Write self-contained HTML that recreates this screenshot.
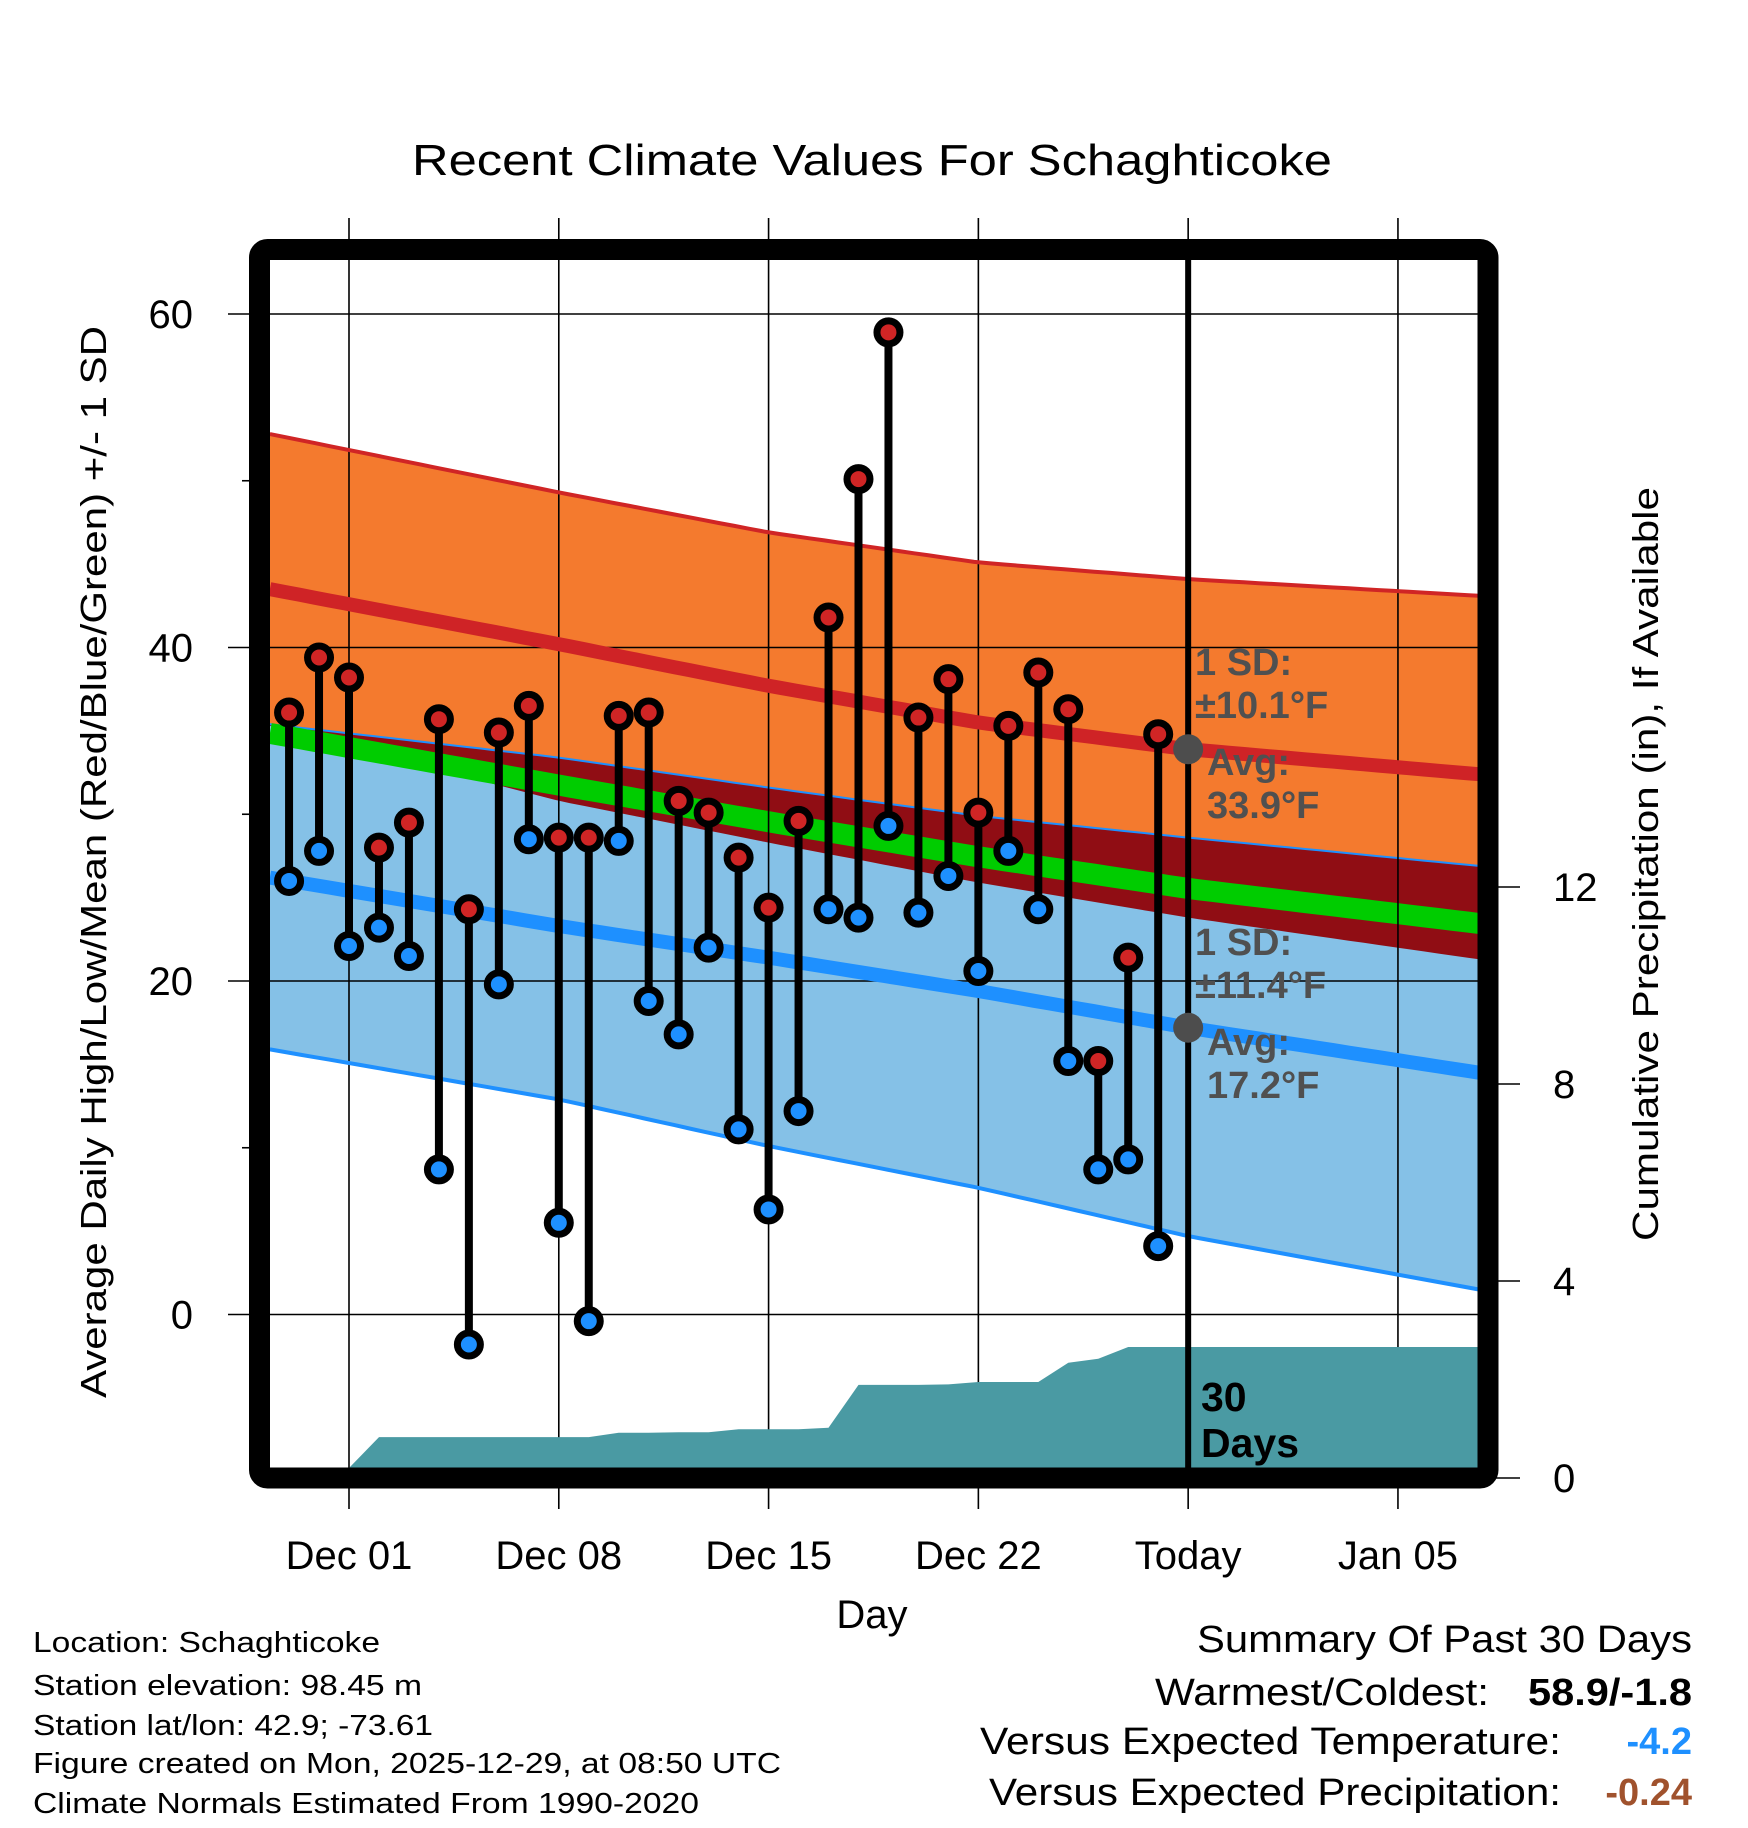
<!DOCTYPE html>
<html><head><meta charset="utf-8"><style>
html,body{margin:0;padding:0;background:#fff;}
svg{display:block;font-family:"Liberation Sans",Arial,sans-serif;}
</style></head><body>
<svg id="chart" width="1748" height="1828" viewBox="0 0 1748 1828" xmlns="http://www.w3.org/2000/svg">
<rect width="1748" height="1828" fill="#fff"/>
<g id="bands"></g><g id="grid"></g><g id="precip"></g><g id="lines"></g><g id="marks"></g><g id="annot"></g><g id="frame"></g>
<text x="872" y="175" font-size="44" text-anchor="middle" textLength="920" lengthAdjust="spacingAndGlyphs">Recent Climate Values For Schaghticoke</text>
<text transform="translate(106,862) rotate(-90)" font-size="36" text-anchor="middle" textLength="1072" lengthAdjust="spacingAndGlyphs">Average Daily High/Low/Mean (Red/Blue/Green) +/- 1 SD</text>
<text transform="translate(1658,864) rotate(-90)" font-size="36" text-anchor="middle" textLength="754" lengthAdjust="spacingAndGlyphs">Cumulative Precipitation (in), If Available</text>
<text x="872" y="1628" font-size="40" text-anchor="middle">Day</text>
<g font-size="29">
<text x="33" y="1652" textLength="347" lengthAdjust="spacingAndGlyphs">Location: Schaghticoke</text>
<text x="33" y="1695" textLength="389" lengthAdjust="spacingAndGlyphs">Station elevation: 98.45 m</text>
<text x="33" y="1735" textLength="400" lengthAdjust="spacingAndGlyphs">Station lat/lon: 42.9; -73.61</text>
<text x="33" y="1773" textLength="748" lengthAdjust="spacingAndGlyphs">Figure created on Mon, 2025-12-29, at 08:50 UTC</text>
<text x="33" y="1813" textLength="666" lengthAdjust="spacingAndGlyphs">Climate Normals Estimated From 1990-2020</text>
</g>
<g font-size="38">
<text x="1692" y="1652" text-anchor="end" textLength="495" lengthAdjust="spacingAndGlyphs">Summary Of Past 30 Days</text>
<text x="1489" y="1705" text-anchor="end" textLength="334" lengthAdjust="spacingAndGlyphs">Warmest/Coldest:</text>
<text x="1692" y="1705" text-anchor="end" font-weight="bold" textLength="164" lengthAdjust="spacingAndGlyphs">58.9/-1.8</text>
<text x="1561" y="1754" text-anchor="end" textLength="581" lengthAdjust="spacingAndGlyphs">Versus Expected Temperature:</text>
<text x="1692" y="1754" text-anchor="end" font-weight="bold" fill="#1e90ff">-4.2</text>
<text x="1561" y="1805" text-anchor="end" textLength="572" lengthAdjust="spacingAndGlyphs">Versus Expected Precipitation:</text>
<text x="1692" y="1805" text-anchor="end" font-weight="bold" fill="#a0522d">-0.24</text>
</g>
</svg>
<script>
// ---- data ----
const dayOffsets = [-2,-1,0,1,2,3,4,5,6,7,8,9,10,11,12,13,14,15,16,17,18,19,20,21,22,23,24,25,26,27]; // days from Dec 01
const highs = [36.1,39.4,38.2,28.0,29.5,35.7,24.3,34.9,36.5,28.6,28.6,35.9,36.1,30.8,30.1,27.4,24.4,29.6,41.8,50.1,58.9,35.8,38.1,30.1,35.3,38.5,36.3,15.2,21.4,34.8];
const lows = [26.0,27.8,22.1,23.2,21.5,8.7,-1.8,19.8,28.5,5.5,-0.4,28.4,18.8,16.8,22.0,11.1,6.3,12.2,24.3,23.8,29.3,24.1,26.3,20.6,27.8,24.3,15.2,8.7,9.3,4.1];
const precipCum = [0,0,0,0.83,0.83,0.83,0.83,0.83,0.83,0.83,0.83,0.92,0.92,0.93,0.93,0.99,0.99,0.99,1.02,1.89,1.89,1.89,1.90,1.95,1.95,1.95,2.34,2.42,2.66,2.66];
const normDays = [-2.64,7,14,21,28,37.7];
const hiTop = [52.8,49.3,46.9,45.1,44.1,43.1];
const hiAvg = [43.5,40.2,37.7,35.5,33.9,32.4];
const hiBot = [35.3,30.8,28.3,25.9,23.8,21.3];
const loTop = [35.4,33.4,31.6,29.9,28.6,26.9];
const loAvg = [26.2,23.3,21.4,19.4,17.2,14.5];
const loBot = [15.9,12.9,10.1,7.6,4.7,1.5];
const xTickDays = [0,7,14,21,28,35];
const xTickLabels = ["Dec 01","Dec 08","Dec 15","Dec 22","Today","Jan 05"];
const yTicks = [0,20,40,60];
const yMinor = [10,30,50];
const pTicks = [0,4,8,12];

// ---- axes ----
const L=270,R=1478,T=260,B=1468;
const X = d => 349 + d*29.97;
const Y = v => 1314.5 - v*16.675;
const P = v => 1478 - v*49.25;
const NS="http://www.w3.org/2000/svg";
function mk(tag, parent, attrs){const e=document.createElementNS(NS,tag);for(const k in attrs)e.setAttribute(k,attrs[k]);parent.appendChild(e);return e;}
const gB=document.getElementById('bands'),gG=document.getElementById('grid'),gP=document.getElementById('precip'),gL=document.getElementById('lines'),gM=document.getElementById('marks'),gA=document.getElementById('annot'),gF=document.getElementById('frame');

function interp(arr,d){for(let i=0;i<normDays.length-1;i++){if(d<=normDays[i+1]||i==normDays.length-2){const t=(d-normDays[i])/(normDays[i+1]-normDays[i]);return arr[i]+t*(arr[i+1]-arr[i]);}}}
const dEnd=normDays[normDays.length-1];
const samp=[];for(let d=normDays[0];d<dEnd;d+=0.5)samp.push(d);samp.push(dEnd);
function linePts(arr){return samp.map(d=>X(d).toFixed(1)+','+Y(interp(arr,d)).toFixed(1));}
function band(a,b){return linePts(a).concat(linePts(b).reverse()).join(' ');}
const meanArr = hiAvg.map((v,i)=>(v+loAvg[i])/2);

let e;
e=mk('polygon',gB,{points:band(hiTop,hiBot),fill:'#f47a2e'});

e=mk('polygon',gB,{points:band(loTop,loBot),fill:'#85c1e7'});

e=mk('polygon',gB,{points:band(loTop,hiBot),fill:'#900d14'});

e=mk('polyline',gB,{points:linePts(loTop).join(' '),fill:'none',stroke:'#1e90ff','stroke-width':2});

e=mk('polyline',gB,{points:linePts(meanArr).join(' '),fill:'none',stroke:'#00cc00','stroke-width':21});


// grid
xTickDays.forEach((d,i)=>{
  e=mk('line',gG,{x1:X(d),x2:X(d),y1:218,y2:1509,stroke:'#000','stroke-width':1.6});
  
  e=mk('text',gG,{x:X(d),y:1569,'font-size':40,'text-anchor':'middle'});e.textContent=xTickLabels[i];
  
});
yTicks.forEach(v=>{
  e=mk('line',gG,{x1:228,x2:R,y1:Y(v),y2:Y(v),stroke:'#000','stroke-width':1.6});
  
  e=mk('text',gG,{x:193,y:Y(v)+14,'font-size':40,'text-anchor':'end'});e.textContent=v;
  
});
yMinor.forEach(v=>{
  e=mk('line',gG,{x1:242,x2:255,y1:Y(v),y2:Y(v),stroke:'#000','stroke-width':1.6});
  
});
pTicks.forEach(v=>{
  e=mk('line',gG,{x1:1490,x2:1520,y1:P(v),y2:P(v),stroke:'#000','stroke-width':1.6});
  
  e=mk('text',gG,{x:1553,y:P(v)+14,'font-size':40});e.textContent=v;
  
});

// normal lines
e=mk('polyline',gL,{points:linePts(hiTop).join(' '),fill:'none',stroke:'#d02525','stroke-width':4});

e=mk('polyline',gL,{points:linePts(hiAvg).join(' '),fill:'none',stroke:'#cf2326','stroke-width':14});

e=mk('polyline',gL,{points:linePts(loAvg).join(' '),fill:'none',stroke:'#1e90ff','stroke-width':14});

e=mk('polyline',gL,{points:linePts(loBot).join(' '),fill:'none',stroke:'#1e90ff','stroke-width':4});


// precip
let pp=[X(dayOffsets[0])+','+B];
dayOffsets.forEach((d,i)=>pp.push(X(d).toFixed(1)+','+Math.min(B,P(precipCum[i])).toFixed(1)));
pp.push(R+','+Math.min(B,P(precipCum[precipCum.length-1])).toFixed(1));pp.push(R+','+B);
e=mk('polygon',gP,{points:pp.join(' '),fill:'#4a9aa3'});


// marks
dayOffsets.forEach((d,i)=>{
  e=mk('line',gM,{x1:X(d),x2:X(d),y1:Y(highs[i]),y2:Y(lows[i]),stroke:'#000','stroke-width':8});
  
});
dayOffsets.forEach((d,i)=>{
  e=mk('circle',gM,{cx:X(d),cy:Y(highs[i]),r:11.5,fill:'#d02525',stroke:'#000','stroke-width':7});
  
  e=mk('circle',gM,{cx:X(d),cy:Y(lows[i]),r:11.5,fill:'#1e90ff',stroke:'#000','stroke-width':7});
  
});

// today line + annotations
e=mk('line',gA,{x1:X(28),x2:X(28),y1:T-10,y2:B,stroke:'#000','stroke-width':6});

e=mk('circle',gA,{cx:X(28),cy:Y(interp(hiAvg,28)),r:15,fill:'#4d4d4d'});

e=mk('circle',gA,{cx:X(28),cy:Y(interp(loAvg,28)),r:15,fill:'#4d4d4d'});

const ann=[["1 SD:",1195,675],["\u00b110.1\u00b0F",1195,718],["Avg:",1207,775],["33.9\u00b0F",1207,818],["1 SD:",1195,955],["\u00b111.4\u00b0F",1195,998],["Avg:",1207,1055],["17.2\u00b0F",1207,1098]];
ann.forEach(a=>{
  e=mk('text',gA,{x:a[1],y:a[2],'font-size':38,'font-weight':'bold',fill:'#505050'});e.textContent=a[0];
  
});
e=mk('text',gA,{x:1201,y:1411,'font-size':41,'font-weight':'bold'});e.textContent='30';

e=mk('text',gA,{x:1201,y:1457,'font-size':41,'font-weight':'bold'});e.textContent='Days';


// frame
e=mk('rect',gF,{x:259.5,y:249.5,width:1228.5,height:1228.5,rx:8,fill:'none',stroke:'#000','stroke-width':21});

</script>
</body></html>
